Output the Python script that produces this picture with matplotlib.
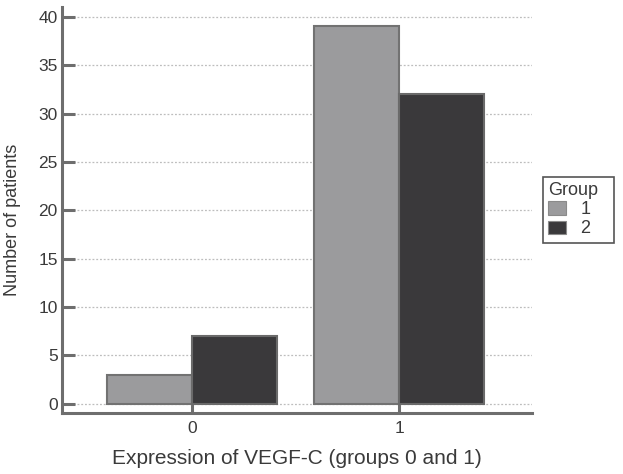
import numpy as np
import matplotlib
matplotlib.use("Agg")
import matplotlib.pyplot as plt
from matplotlib.patches import Rectangle

plt.rcParams['font.family'] = ['Liberation Sans', 'DejaVu Sans']

categories = ['0', '1']
groups = ['1', '2']
group1_counts = [3, 39]
group2_counts = [7, 32]
yticks = [0, 5, 10, 15, 20, 25, 30, 35, 40]

fig = plt.figure(figsize=(6.23, 4.74), dpi=100)
ax = fig.add_axes([0.0995, 0.129, 0.755, 0.856])

x = np.arange(len(categories))
width = 0.41
txt = '#3a3a3a'
spine_c = '#6e6e6e'

ax.bar(x - width / 2, group1_counts, width, color='#9b9b9d', edgecolor='#727272',
       linewidth=1.5, label=groups[0], zorder=3)
ax.bar(x + width / 2, group2_counts, width, color='#3a393b', edgecolor='#6a6a6a',
       linewidth=1.5, label=groups[1], zorder=3)

ax.set_xlim(-0.628, 1.643)
ax.set_ylim(-0.93, 41)
ax.set_yticks(yticks)
ax.set_xticks(x)
ax.set_xticklabels(categories)

ax.yaxis.grid(True, linestyle=(0, (1.5, 1.5)), color='#bdbdbd', linewidth=0.9, zorder=0)
ax.set_axisbelow(True)

for s in ['top', 'right']:
    ax.spines[s].set_visible(False)
for s in ['left', 'bottom']:
    ax.spines[s].set_color(spine_c)
    ax.spines[s].set_linewidth(2.2)

ax.tick_params(axis='both', direction='in', length=9, width=2.2, color=spine_c,
               labelsize=12.5, labelcolor=txt)
ax.tick_params(axis='y', pad=3)
ax.tick_params(axis='x', pad=6)

ax.set_xlabel('Expression of VEGF-C (groups 0 and 1)', fontsize=15, color=txt, labelpad=9)
ax.set_ylabel('Number of patients', fontsize=13, color=txt)
ax.yaxis.set_label_coords(-0.087, 0.475)

leg = ax.legend(title='Group', loc='upper left', bbox_to_anchor=(1.022, 0.582),
                frameon=False, fontsize=13, title_fontsize=13,
                handlelength=1.0, handleheight=0.75, handletextpad=0.8,
                borderpad=0.3, labelspacing=0.12, borderaxespad=0,
                alignment='left')
for t in leg.get_texts():
    t.set_color(txt)
leg.get_title().set_color(txt)
for h in leg.legend_handles:
    h.set_edgecolor('#8a8a8a')
    h.set_linewidth(0.8)

# legend box drawn by hand so it can be a bit wider than the text
fig.canvas.draw()
bb = leg.get_window_extent().transformed(fig.transFigure.inverted())
fig.patches.append(Rectangle((bb.x0, bb.y0), bb.width + 10 / 623, bb.height,
                             transform=fig.transFigure, fill=False,
                             edgecolor='#555555', linewidth=1.2))

fig.savefig('out.png', dpi=100)
